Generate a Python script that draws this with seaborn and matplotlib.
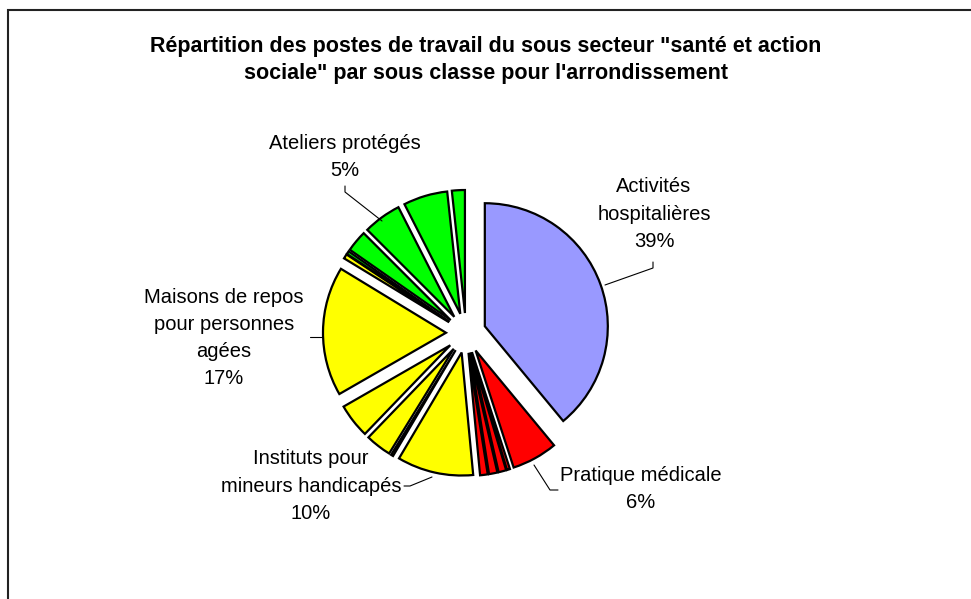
import matplotlib
matplotlib.use("Agg")
import matplotlib.pyplot as plt
import seaborn as sns
from matplotlib.patches import Rectangle

# slice values, clockwise from 12 o'clock
values = [39.0, 6.0, 0.4, 1.0, 1.1, 1.0, 10.0, 0.3, 3.4, 4.5, 17.0, 0.6, 0.4, 2.8, 5.0, 5.8, 1.7]
colors = ['#9999FF', '#FF0000', '#FF0000', '#FF0000', '#FF0000', '#FF0000',
          '#FFFF00', '#FFFF00', '#FFFF00', '#FFFF00', '#FFFF00', '#FFFF00',
          '#00FF00', '#00FF00', '#00FF00', '#00FF00', '#00FF00']

# labelled slices
label_texts = ["Activités\nhospitalières\n39%",
               "Pratique médicale\n6%",
               "Instituts pour\nmineurs handicapés\n10%",
               "Maisons de repos\npour personnes\nagées\n17%",
               "Ateliers protégés\n5%"]
label_pos = [(654, 214), (641, 489), (311, 486), (224, 338), (345, 157)]
leaders = [[(605, 285), (653, 268), (653, 262)],
           [(534, 465), (550, 490), (558, 490)],
           [(432, 477), (410, 486), (404, 486)],
           [(323, 337), (310, 337)],
           [(382, 221), (345, 192), (345, 186)]]

title = ('Répartition des postes de travail du sous secteur "santé et action\n'
         'sociale" par sous classe pour l\'arrondissement')

sns.set_theme(style="white")
plt.rcParams['font.family'] = ['Liberation Sans', 'DejaVu Sans']

W, H = 971, 599
fig = plt.figure(figsize=(W / 100, H / 100), dpi=100)
ax = fig.add_axes([0, 0, 1, 1])

# explode is in data units (pixels here)
ax.pie(values, colors=colors, startangle=90, counterclock=False,
       center=(466, H - 333), radius=123, explode=[20] * len(values),
       wedgeprops=dict(edgecolor='black', linewidth=1.6), frame=True)

for txt, (x, y) in zip(label_texts, label_pos):
    ax.text(x, H - y, txt, ha='center', va='center', fontsize=14.5,
            linespacing=1.55, color='black')

for pts in leaders:
    ax.plot([p[0] for p in pts], [H - p[1] for p in pts], color='black', lw=0.8)

ax.text(486, H - 60, title, ha='center', va='center', fontsize=15.5,
        fontweight='bold', linespacing=1.38, color='black')

ax.add_patch(Rectangle((8, -10), W + 20, H - 10 + 10, fill=False,
                       edgecolor='#222222', linewidth=1.5))

ax.set_xlim(0, W)
ax.set_ylim(0, H)
ax.set_aspect('equal')
ax.axis('off')

fig.savefig('out.png', dpi=100)
